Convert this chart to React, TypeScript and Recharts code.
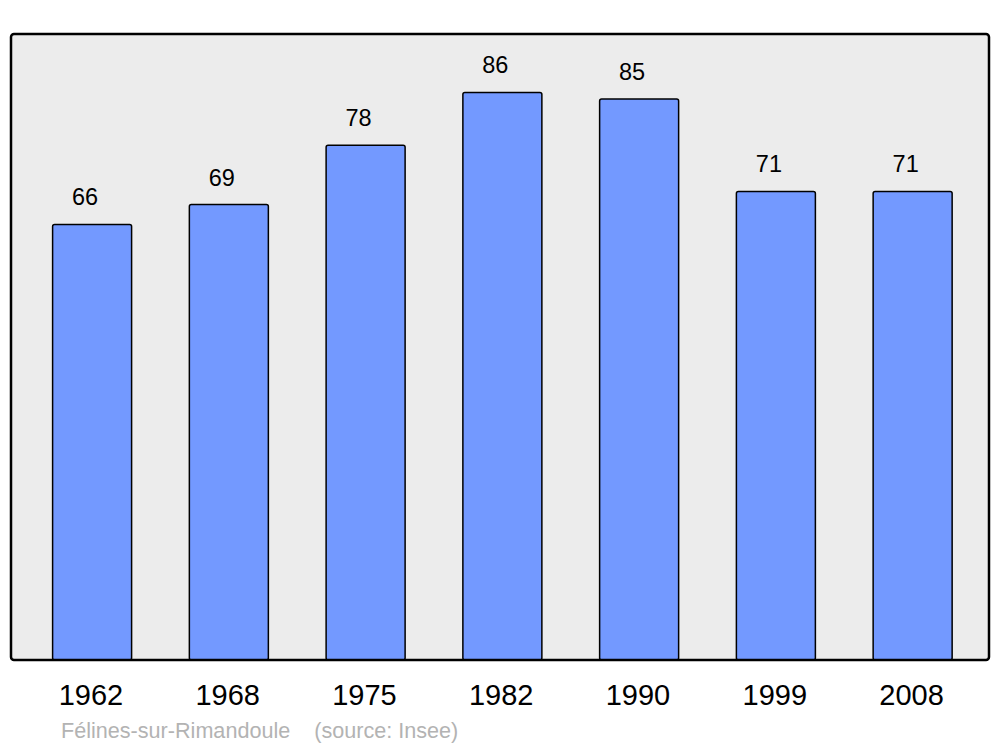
import { BarChart, Bar, XAxis, YAxis, CartesianGrid, LabelList } from "recharts";

const years = ["1962", "1968", "1975", "1982", "1990", "1999", "2008"];
const population = [66, 69, 78, 86, 85, 71, 71];

const data = years.map((year, i) => ({ year, value: population[i] }));

const FONT = "'Liberation Sans', Arial, sans-serif";

export default function App() {
  return (
    <div style={{ position: "absolute", left: 0, top: 0, width: 1000, height: 747, background: "#fff", fontFamily: FONT }}>
      <BarChart width={1000} height={747} data={data} margin={{ top: 34, right: 11, left: 11, bottom: 0 }}>
        <CartesianGrid fill="#ececec" stroke="none" horizontal={false} vertical={false} />
        <XAxis
          dataKey="year"
          height={87}
          axisLine={false}
          tickLine={false}
          padding={{ left: 12.6, right: 8.1 }}
          tickMargin={18}
          tick={{ fill: "#000", fontSize: 29, fontFamily: FONT, dx: -1 }}
          interval={0}
        />
        <YAxis hide domain={[0, 94.85]} />
        <Bar
          dataKey="value"
          fill="#7399ff"
          stroke="#000"
          strokeWidth={1.5}
          barSize={79}
          radius={2}
          isAnimationActive={false}
        >
          <LabelList
            dataKey="value"
            position="top"
            offset={19}
            dx={-7}
            style={{ fill: "#000", fontSize: 23.5, fontFamily: FONT }}
          />
        </Bar>
      </BarChart>
      <svg width={1000} height={747} style={{ position: "absolute", left: 0, top: 0, pointerEvents: "none" }}>
        <rect x={11} y={34} width={978} height={626} rx={3} ry={3} fill="none" stroke="#000" strokeWidth={2.5} />
      </svg>
      <div
        style={{
          position: "absolute",
          left: 61,
          top: 718,
          fontSize: 21.6,
          color: "#b3b3b3",
          whiteSpace: "pre",
          fontFamily: FONT,
        }}
      >
        {"Félines-sur-Rimandoule    (source: Insee)"}
      </div>
    </div>
  );
}
